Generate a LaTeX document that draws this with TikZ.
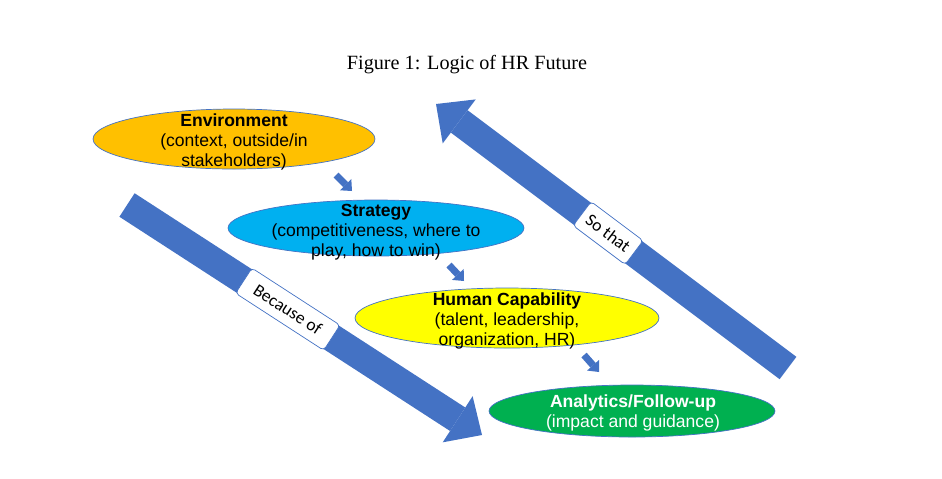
\documentclass[tikz,border=0pt]{standalone}
\usepackage{fontspec}
\setmainfont{Liberation Serif}
\newfontfamily\boxfont{Liberation Sans}
\newfontfamily\tagfont{Carlito}
\usetikzlibrary{shapes.geometric,arrows.meta}
\definecolor{wordblue}{HTML}{4472C4}
\definecolor{envorange}{HTML}{FFC000}
\definecolor{stratblue}{HTML}{00B0F0}
\definecolor{capyellow}{HTML}{FFFF00}
\definecolor{anagreen}{HTML}{00B050}
\begin{document}
\begin{tikzpicture}[x=0.02cm, y=-0.02cm,
  bubble/.style={ellipse, draw=wordblue, line width=0.4pt, inner sep=0pt},
  words/.style={align=center, font=\boxfont\fontsize{10}{11.4}\selectfont},
  bigarrow/.style={wordblue, line width=0.56cm, -{Triangle[length=0.58cm, width=1.1cm, line width=0pt]}},
  smallarrow/.style={wordblue, line width=0.14cm, -{Triangle[length=0.18cm, width=0.32cm, line width=0pt]}},
  tag/.style={draw=wordblue, fill=white, text=black, line width=0.4pt, rounded corners=2pt, inner sep=0pt, minimum height=0.6cm, font=\tagfont\fontsize{10}{12}\selectfont}]
\useasboundingbox (0,0) rectangle (942,478);
\node[font=\fontsize{11.5}{14}\selectfont] (title) at (467,65) {Figure 1: Logic of HR Future};

% the two long arrows
\coordinate (bc-tail) at (127,205);
\coordinate (bc-tip) at (482,435);
\coordinate (st-tail) at (788,368);
\coordinate (st-tip) at (436,104);
\draw[bigarrow] (bc-tail) -- node[tag, sloped, pos=0.453, minimum width=2.1cm] (because) {Because of} (bc-tip);
\draw[bigarrow] (st-tail) -- node[tag, sloped, pos=0.511, minimum width=1.3cm] (sothat) {So that} (st-tip);

% the four steps
\node[bubble, fill=envorange, minimum width=5.64cm, minimum height=1.2cm] (env) at (234,139) {};
\node[words] (env-text) at (234,142) {\textbf{Environment}\\(context, outside/in\\stakeholders)};
\node[bubble, fill=stratblue, minimum width=5.92cm, minimum height=1.12cm] (strat) at (376,228) {};
\node[words] (strat-text) at (376,232) {\textbf{Strategy}\\(competitiveness, where to\\play, how to win)};
\node[bubble, fill=capyellow, minimum width=6.08cm, minimum height=1.2cm] (cap) at (507,318) {};
\node[words] (cap-text) at (507,321) {\textbf{Human Capability}\\(talent, leadership,\\organization, HR)};
\node[bubble, fill=anagreen, minimum width=5.72cm, minimum height=1.04cm] (ana) at (632,411) {};
\node[words, text=white] (ana-text) at (633,413) {\textbf{Analytics/Follow-up}\\(impact and guidance)};

% small arrows between the steps
\coordinate (a1) at (336,175);
\coordinate (b1) at (352,191);
\coordinate (a2) at (449,265);
\coordinate (b2) at (464,281);
\coordinate (a3) at (584,355);
\coordinate (b3) at (599,372);
\draw[smallarrow] (a1) -- (b1);
\draw[smallarrow] (a2) -- (b2);
\draw[smallarrow] (a3) -- (b3);
\end{tikzpicture}
\end{document}
